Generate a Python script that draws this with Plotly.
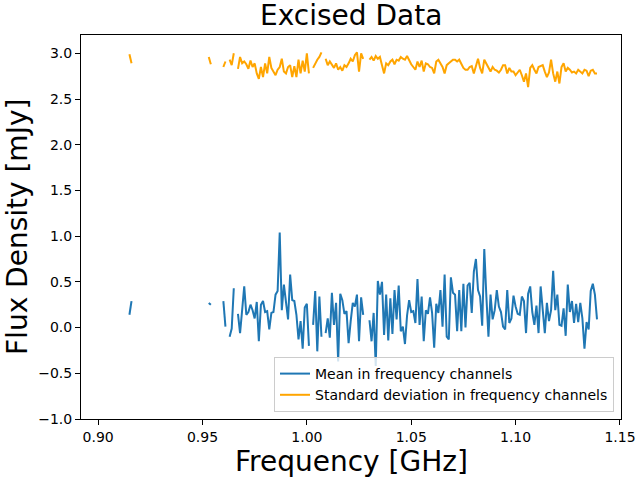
import numpy as np
import plotly.graph_objects as go

# Frequency channels (GHz): 1 MHz channels from 0.915 GHz
FREQ_START = 0.915
FREQ_STEP = 0.001
N_CHANNELS = 225
freq = np.round(FREQ_START + FREQ_STEP * np.arange(N_CHANNELS), 4)

N = None  # excised channel

# Mean flux density per channel (mJy)
mean_seg1 = [0.14, 0.29]
mean_seg2 = [0.27, 0.25]
mean_seg3 = [0.29, 0.01]
mean_seg4 = [-0.10, -0.01, 0.43]
mean_seg5 = [0.15, -0.06, 0.19, 0.45, 0.14, 0.17, 0.25, 0.19, 0.10, 0.28,
             -0.15, 0.25, 0.29, 0.17, 0.18, -0.02, 0.16, 0.17, 0.36, 0.40,
             1.04, 0.19, 0.47, 0.28, 0.09, 0.58, 0.30, 0.29, 0.14, -0.13,
             0.07, -0.23, 0.22, 0.26, -0.20]
mean_seg6 = [0.03, 0.40, -0.26, 0.34, -0.10]
mean_seg7 = [-0.06, 0.10, -0.11, 0.38, 0.03, 0.27, -0.37, 0.37, 0.30, 0.15,
             0.18, -0.17, 0.07, 0.27, 0.23, 0.36, -0.15, 0.33, 0.14]
mean_seg8 = [0.08, -0.15, 0.16, -0.42, 0.51, 0.36, 0.50, -0.08, 0.36, -0.14,
             0.32, -0.07, 0.41, 0.09, 0.46, -0.04, 0.01, -0.18, 0.13, 0.30,
             0.17, 0.18, 0.05, 0.53, 0.03, 0.34, -0.15, 0.19, 0.15, 0.33,
             0.16, -0.22, 0.26, 0.16, 0.41, 0.01, 0.58, -0.10, -0.13, 0.55,
             0.38, 0.36, -0.04, 0.41, -0.04, 0.48, 0.00, 0.46, 0.49, 0.16,
             0.61, 0.75, 0.41, 0.34, 0.02, 0.86,
             0.34, -0.10, 0.36, 0.09, 0.19, 0.41, 0.23, 0.17, 0.01, -0.02,
             0.41, 0.05, 0.10, 0.35, 0.23, 0.15, 0.14, 0.34, 0.29, -0.06,
             0.37, 0.45, 0.17, 0.03, 0.24, -0.06, 0.45, 0.15, -0.06, 0.27,
             0.07, 0.19, 0.62, 0.19, 0.36, 0.03, 0.02, 0.21, -0.09, 0.47,
             0.17, 0.29, 0.05, 0.26, 0.06, 0.27, 0.10, -0.23, 0.06, -0.02,
             0.40, 0.48, 0.36, 0.09]

# Standard deviation per channel (mJy)
std_seg1 = [2.99, 2.89]
std_seg2 = [2.96, 2.88]
std_seg3 = [2.85, 2.91]
std_seg4 = [2.93, 2.87, 3.00]
std_seg5 = [2.83, 2.96, 2.89, 2.91, 2.88, 2.83, 2.92, 2.85, 2.89, 2.78,
            2.72, 2.85, 2.74, 2.89, 2.78, 2.96, 2.84, 2.80, 2.76, 2.82,
            2.85, 2.94, 2.80, 2.78, 2.85, 2.87, 2.74, 2.86, 2.74, 2.93,
            2.78, 2.92, 2.80, 3.00, 2.78]
std_seg6 = [2.84, 2.89, 2.93, 2.96, 3.01]
std_seg7 = [2.94, 2.87, 2.91, 2.87, 2.84, 2.89, 2.82, 2.85, 2.81, 2.87,
            2.85, 2.89, 2.94, 2.91, 2.98, 3.01, 2.80, 3.00, 2.94]
std_seg8 = [2.93, 2.96, 2.92, 2.97, 2.94, 2.96, 2.87, 2.78,
            2.89, 2.87, 2.91, 2.93, 2.88, 2.93, 2.92, 2.96, 2.94, 2.93,
            2.97, 2.92, 2.88, 2.85, 2.82, 2.91, 2.85, 2.92, 2.80, 2.89,
            2.88, 2.85, 2.84, 2.78,
            2.91, 2.93, 2.89, 2.85, 2.78, 2.87, 2.89, 2.91, 2.93, 2.93,
            2.91, 2.93, 2.89, 2.84, 2.82, 2.82, 2.85,
            2.86, 2.78, 2.87, 2.94, 2.84, 2.78, 2.93, 2.89, 2.85, 2.80,
            2.85, 2.82, 2.81, 2.79, 2.82, 2.87, 2.87, 2.78, 2.84, 2.80,
            2.80, 2.76, 2.79, 2.82, 2.76, 2.69, 2.78, 2.63, 2.84, 2.87,
            2.82, 2.78, 2.85, 2.86, 2.87, 2.80, 2.74, 2.79, 2.93, 2.78,
            2.69, 2.80, 2.67, 2.85, 2.89, 2.80, 2.84, 2.82, 2.79, 2.80,
            2.78, 2.82, 2.80, 2.78, 2.82, 2.81, 2.75, 2.81, 2.82, 2.78,
            2.78]

# Excised channel gaps between the segments
gap_lengths = [36, 5, 1, 1, 1, 1, 2]

x_ticks = [0.90, 0.95, 1.00, 1.05, 1.10, 1.15]
x_tick_text = ["0.90", "0.95", "1.00", "1.05", "1.10", "1.15"]
y_ticks = [-1.0, -0.5, 0.0, 0.5, 1.0, 1.5, 2.0, 2.5, 3.0]
y_tick_text = ["\u22121.0", "\u22120.5", "0.0", "0.5", "1.0", "1.5",
               "2.0", "2.5", "3.0"]


def assemble(segments, gaps):
    out = []
    for i, seg in enumerate(segments):
        out += list(seg)
        if i < len(gaps):
            out += [N] * gaps[i]
    return out


mean_flux = assemble([mean_seg1, mean_seg2, mean_seg3, mean_seg4, mean_seg5,
                      mean_seg6, mean_seg7, mean_seg8], gap_lengths)
std_flux = assemble([std_seg1, std_seg2, std_seg3, std_seg4, std_seg5,
                     std_seg6, std_seg7, std_seg8], gap_lengths)

FONT = "DejaVu Sans"
W, H = 640, 480
L, R, T, B = 81, 19, 35, 61
PW, PH = W - L - R, H - T - B

fig = go.Figure()
fig.add_trace(go.Scatter(x=freq[:len(mean_flux)], y=mean_flux, mode="lines",
                         name="Mean in frequency channels",
                         line=dict(color="#1f77b4", width=2)))
fig.add_trace(go.Scatter(x=freq[:len(std_flux)], y=std_flux, mode="lines",
                         name="Standard deviation in frequency channels",
                         line=dict(color="#FFA500", width=2)))

axis_common = dict(showgrid=False, zeroline=False, showline=True, mirror=True,
                   linecolor="black", linewidth=1, ticks="outside", ticklen=5,
                   tickwidth=1, tickcolor="black", automargin=False,
                   tickfont=dict(family=FONT, size=14, color="black"))

fig.update_layout(
    width=W, height=H,
    margin=dict(l=L, r=R, t=T, b=B, autoexpand=False),
    paper_bgcolor="white", plot_bgcolor="white",
    font=dict(family=FONT, color="black"),
    xaxis=dict(range=[0.8918, 1.1505], tickmode="array",
               tickvals=x_ticks, ticktext=x_tick_text, **axis_common),
    yaxis=dict(range=[-1.0, 3.2], tickmode="array",
               tickvals=y_ticks, ticktext=y_tick_text, **axis_common),
    legend=dict(x=(614 - L) / PW, y=(H - B - 412) / PH,
                xanchor="right", yanchor="bottom",
                bgcolor="rgba(255,255,255,0.8)", bordercolor="#cccccc",
                borderwidth=1, font=dict(family=FONT, size=14, color="black"),
                tracegroupgap=0, itemwidth=30),
    showlegend=True,
    annotations=[
        dict(text="Excised Data", xref="paper", yref="paper",
             x=0.5, y=(H - B - 16) / PH, xanchor="center", yanchor="middle",
             showarrow=False, borderpad=0,
             font=dict(family=FONT, size=28, color="black")),
        dict(text="Frequency [GHz]", xref="paper", yref="paper",
             x=0.5, y=(H - B - 461) / PH, xanchor="center", yanchor="middle",
             showarrow=False, borderpad=0,
             font=dict(family=FONT, size=28, color="black")),
        dict(text="Flux Density [mJy]", xref="paper", yref="paper",
             x=(17 - L) / PW, y=(H - B - 227) / PH, xanchor="center",
             yanchor="middle", textangle=-90, borderpad=0,
             showarrow=False, font=dict(family=FONT, size=28, color="black")),
    ],
)

# remove the default 8px page margin so the figure sits at the window origin
fig.write_html("out.html",
               config={"displayModeBar": False},
               post_script="document.body.style.margin='0';"
                           "document.body.style.overflow='hidden';")
